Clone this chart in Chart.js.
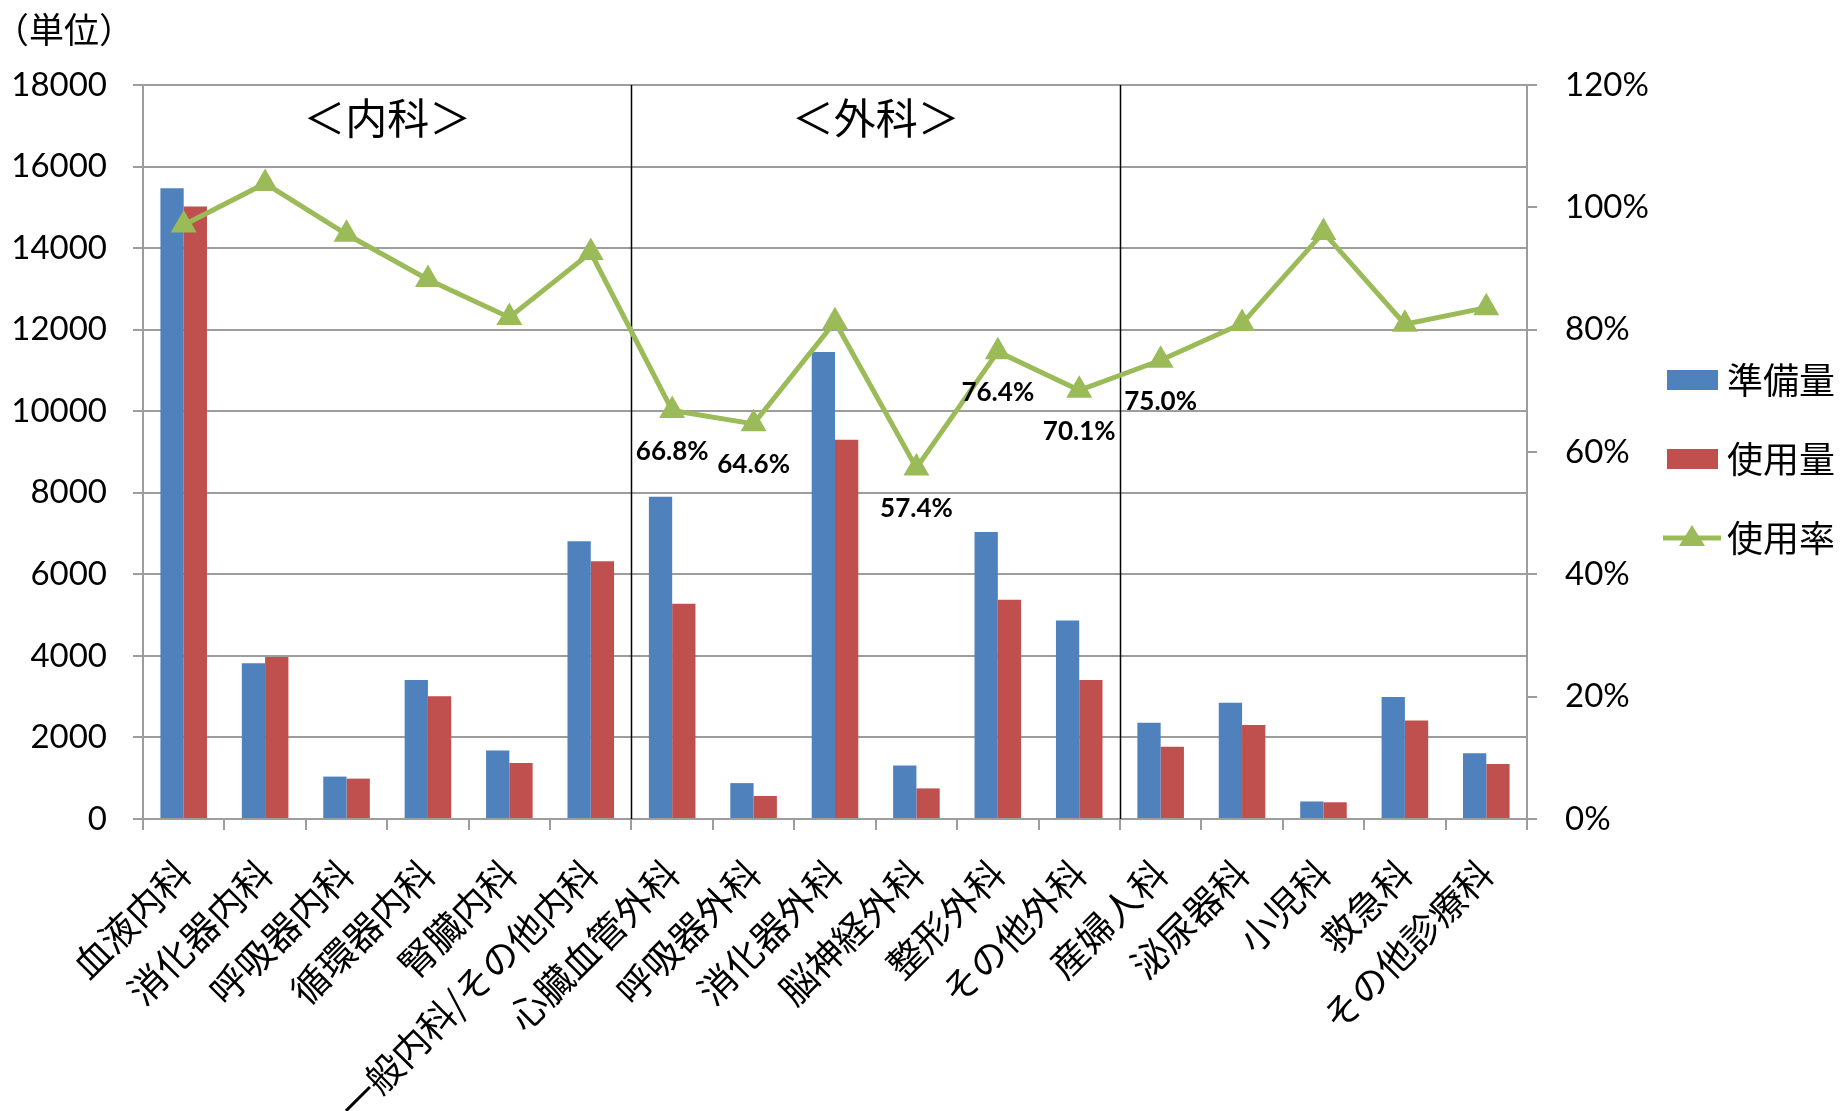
<!DOCTYPE html>
<html lang="ja">
<head>
<meta charset="utf-8">
<title>診療科別 準備量・使用量・使用率</title>
<script src="https://cdn.jsdelivr.net/npm/chart.js@4"></script>
<style>
  html, body { margin: 0; padding: 0; background: #ffffff; }
  #wrap { position: relative; width: 1842px; height: 1111px; }
</style>
</head>
<body>
<div id="wrap"><canvas id="chart"></canvas></div>
<script>
// 診療科
const departments = [
  '血液内科', '消化器内科', '呼吸器内科', '循環器内科', '腎臓内科', '一般内科/その他内科',
  '心臓血管外科', '呼吸器外科', '消化器外科', '脳神経外科', '整形外科', 'その他外科',
  '産婦人科', '泌尿器科', '小児科', '救急科', 'その他診療科'
];
// 準備量（単位）
const prepared = [15470, 3820, 1040, 3410, 1680, 6810, 7900, 880, 11450, 1310, 7040, 4870, 2360, 2850, 430, 2990, 1610];
// 使用量（単位）
const used = [15020, 3970, 990, 3010, 1375, 6320, 5280, 565, 9300, 750, 5375, 3410, 1770, 2305, 410, 2415, 1350];
// 使用率（%）
const usageRate = [97.1, 103.9, 95.6, 88.2, 82.0, 92.6, 66.8, 64.6, 81.3, 57.4, 76.4, 70.1, 75.0, 81.0, 95.9, 80.9, 83.6];
// 値を表示する使用率の点
const labelledPoints = [6, 7, 9, 10, 11, 12];
// 区分（先頭の科の番号と見出し）
const groups = [
  { start: 0, end: 5, title: '＜内科＞' },
  { start: 6, end: 11, title: '＜外科＞' },
  { start: 12, end: 16, title: null }
];
const leftTicks = { min: 0, max: 18000, step: 2000 };
const rightTicks = { min: 0, max: 120, step: 20 };

const BLUE = '#4F81BD', RED = '#C0504D', GREEN = '#9BBB59', GRID = '#9d9d9d';
const NUM_FONT = "Lato, 'Noto Sans CJK JP', sans-serif";
const JP_FONT = "'Noto Sans CJK JP', sans-serif";

// 区切り線・区分見出し・単位・値ラベル・凡例
const decorations = {
  id: 'decorations',
  beforeDatasetsDraw(chart) {
    const { ctx, chartArea, scales: { x } } = chart;
    ctx.save();
    ctx.strokeStyle = '#000000';
    ctx.lineWidth = 1.5;
    groups.slice(1).forEach(g => {
      const px = Math.round(x.getPixelForValue(g.start - 0.5)) + 0.5;
      ctx.beginPath();
      ctx.moveTo(px, chartArea.top);
      ctx.lineTo(px, chartArea.bottom);
      ctx.stroke();
    });
    ctx.restore();
  },
  afterDraw(chart) {
    const { ctx, chartArea, scales: { x } } = chart;
    ctx.save();
    // 区分見出し
    ctx.fillStyle = '#000000';
    ctx.textAlign = 'center';
    ctx.textBaseline = 'middle';
    ctx.font = `42px ${JP_FONT}`;
    groups.forEach(g => {
      if (!g.title) return;
      const cx = (x.getPixelForValue(g.start) + x.getPixelForValue(g.end)) / 2;
      ctx.fillText(g.title, cx, chartArea.top + 33);
    });
    // 単位
    ctx.textAlign = 'left';
    ctx.font = `35px ${JP_FONT}`;
    ctx.fillText('（単位）', -6, 30);
    // 使用率の値ラベル
    const meta = chart.getDatasetMeta(2);
    ctx.textAlign = 'center';
    ctx.font = `bold 26px ${NUM_FONT}`;
    labelledPoints.forEach(i => {
      const pt = meta.data[i];
      ctx.fillText(usageRate[i].toFixed(1) + '%', pt.x, pt.y + 41);
    });
    // 凡例
    const items = chart.data.datasets;
    const lx = 1667, ly = 380, gap = 79;
    ctx.font = `36px ${JP_FONT}`;
    ctx.textAlign = 'left';
    items.forEach((ds, k) => {
      const cy = ly + k * gap;
      if (ds.type === 'line') {
        ctx.strokeStyle = GREEN;
        ctx.lineWidth = 5;
        ctx.beginPath();
        ctx.moveTo(lx - 4, cy);
        ctx.lineTo(lx + 54, cy);
        ctx.stroke();
        ctx.fillStyle = GREEN;
        ctx.beginPath();
        ctx.moveTo(lx + 25, cy - 13);
        ctx.lineTo(lx + 38, cy + 8);
        ctx.lineTo(lx + 12, cy + 8);
        ctx.closePath();
        ctx.fill();
      } else {
        ctx.fillStyle = ds.backgroundColor;
        ctx.fillRect(lx, cy - 10, 51, 20);
      }
      ctx.fillStyle = '#000000';
      ctx.fillText(ds.label, lx + 60, cy);
    });
    ctx.restore();
  }
};

new Chart(document.getElementById('chart'), {
  data: {
    labels: departments,
    datasets: [
      { type: 'bar', label: '準備量', data: prepared, backgroundColor: BLUE, yAxisID: 'y', order: 1,
        barPercentage: 1, categoryPercentage: 0.572 },
      { type: 'bar', label: '使用量', data: used, backgroundColor: RED, yAxisID: 'y', order: 1,
        barPercentage: 1, categoryPercentage: 0.572 },
      { type: 'line', label: '使用率', data: usageRate, yAxisID: 'y1', order: 0,
        borderColor: GREEN, borderWidth: 5, tension: 0,
        pointStyle: 'triangle', pointRadius: 15, pointHoverRadius: 15,
        pointBackgroundColor: GREEN, pointBorderColor: GREEN, pointBorderWidth: 0 }
    ]
  },
  options: {
    responsive: true,
    maintainAspectRatio: false,
    animation: false,
    events: [],
    layout: { padding: { left: 0, right: 0, top: 85, bottom: 0 } },
    plugins: { legend: { display: false }, tooltip: { enabled: false } },
    scales: {
      x: {
        type: 'category',
        offset: true,
        grid: { offset: true, drawOnChartArea: false, drawTicks: true, tickLength: 11, color: GRID, lineWidth: 2 },
        border: { display: true, color: GRID, width: 2 },
        ticks: {
          autoSkip: false, minRotation: 45, maxRotation: 45, padding: 21,
          color: '#000000', font: { family: JP_FONT, size: 37 }
        },
        afterFit(s) { s.height = 1111 - 819; }
      },
      y: {
        position: 'left',
        min: leftTicks.min, max: leftTicks.max,
        grid: { color: GRID, lineWidth: 2, tickLength: 10 },
        border: { display: true, color: GRID, width: 2 },
        ticks: { stepSize: leftTicks.step, padding: 26, color: '#000000', font: { family: NUM_FONT, size: 33 },
          callback: v => String(v) },
        afterFit(s) { s.width = 143; }
      },
      y1: {
        position: 'right',
        min: rightTicks.min, max: rightTicks.max,
        grid: { drawOnChartArea: false, color: GRID, lineWidth: 2, tickLength: 10 },
        border: { display: true, color: GRID, width: 2 },
        ticks: { stepSize: rightTicks.step, padding: 28, color: '#000000', font: { family: NUM_FONT, size: 33 },
          callback: v => v + '%' },
        afterFit(s) { s.width = 1842 - 1527; }
      }
    }
  },
  plugins: [decorations]
});
</script>
</body>
</html>
